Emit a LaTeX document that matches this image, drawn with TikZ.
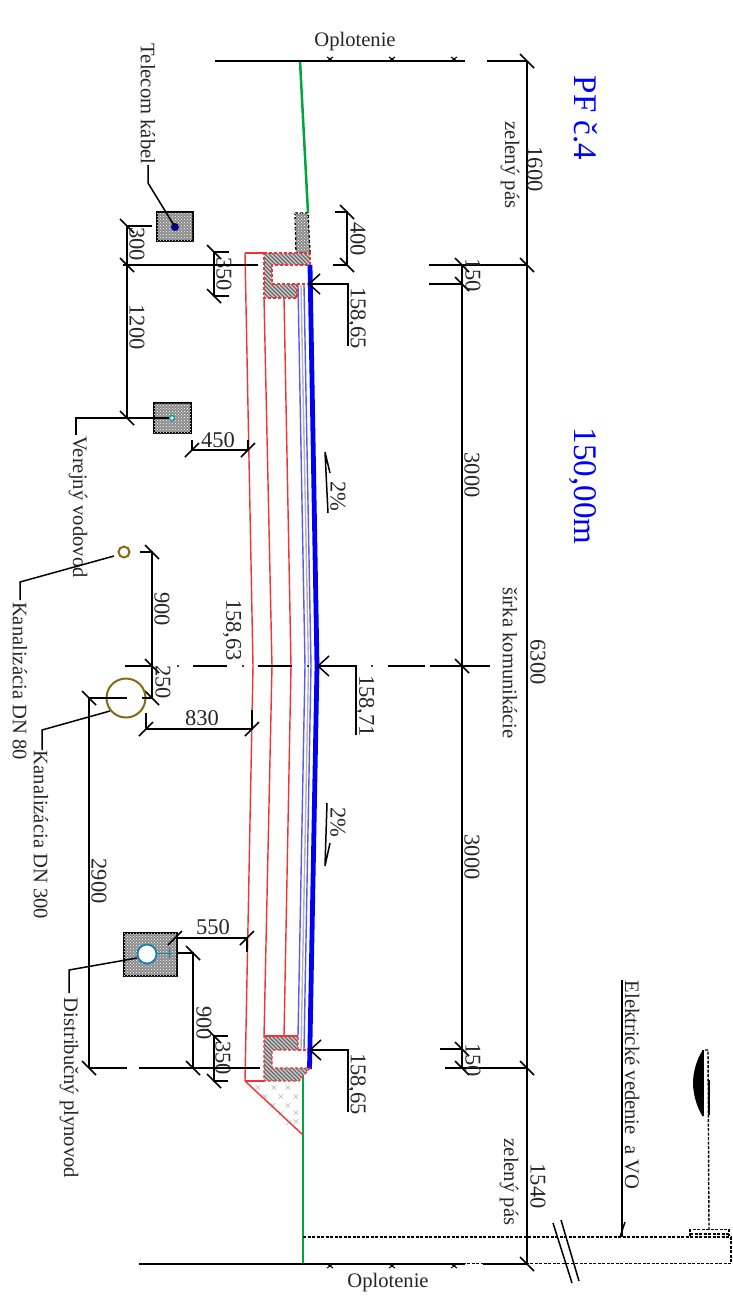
\documentclass[tikz,border=0pt]{standalone}
\usepackage{fontspec}
\setmainfont{Liberation Serif}
\usepackage{xcolor}
\definecolor{roadred}{RGB}{245,50,50}
\definecolor{roadblue}{RGB}{0,0,245}
\definecolor{thinblue}{RGB}{90,90,245}
\definecolor{verge}{RGB}{0,165,60}
\definecolor{sewer}{RGB}{135,105,20}
\definecolor{gaspipe}{RGB}{20,130,175}
\definecolor{waterpipe}{RGB}{0,160,160}
\usepackage{tikz}
\usetikzlibrary{patterns}

\tikzset{
	dim/.style={line width=1.5pt, black},
	lab/.style={rotate=-90, inner sep=0pt, font=\fontsize{20.6}{20.6}\selectfont, text=black!85},
	num/.style={lab, font=\fontsize{22.5}{22.5}\selectfont},
	flat/.style={inner sep=0pt, font=\fontsize{22.5}{22.5}\selectfont, text=black!85},
	title/.style={lab, font=\fontsize{33}{33}\selectfont, text=blue},
	layer/.style={roadred, line width=1.4pt},
	thinlayer/.style={thinblue, line width=1.4pt},
	chamber/.style={draw=black, line width=1.6pt, fill=black!45, postaction={pattern=crosshatch dots, pattern color=white}},
	dashline/.style={black, line width=1.4pt, dash pattern=on 3pt off 1.5pt},
	curbedge/.style={draw=roadred, densely dashed, line width=1.3pt},
	hatchline/.style={black!60, line width=1.2pt},
}

% tick on a vertical dimension line, tick on a horizontal one, open arrow head
\newcommand{\tickv}[2]{\draw[dim] (#1-7, #2-7) -- (#1+7, #2+7);}
\newcommand{\tickh}[2]{\draw[dim] (#1-7, #2+7) -- (#1+7, #2-7);}
\newcommand{\openhead}[2]{\draw[dim] (#1+11, #2-10) -- (#1, #2) -- (#1+11, #2+10);}

\begin{document}
\begin{tikzpicture}[x=1pt, y=-1pt]

\useasboundingbox (0,0) rectangle (732,1304);

% ground, verge
\draw[verge, line width=2.5pt] (300, 61) -- (308, 213);
\draw[verge, line width=2.5pt] (303, 1073) -- (303, 1264);

% fill to the right of the lower curb
\draw[layer] (245, 1081) -- (303, 1135);
\foreach \x/\y in {258/1088, 274/1088, 288/1088, 265/1097, 281/1097, 296/1097, 273/1106, 288/1106, 296/1113, 281/1114, 289/1123, 296/1122} {
	\node[gray, inner sep=0pt, font=\fontsize{10}{10}\selectfont] (cross\x\y) at (\x, \y) {$\times$};
}

% road layers
\draw[layer] (245, 253) -- (253, 666) -- (245, 1081);
\draw[layer] (264, 298) -- (272, 666) -- (264, 1036);
\draw[layer] (284, 298) -- (291, 666) -- (284, 1036);
\draw[thinlayer] (298, 285) -- (305, 666) -- (298, 1036);
\draw[gray!60, line width=1.4pt] (301, 285) -- (308.5, 666) -- (301, 1050);
\draw[thinlayer] (304, 285) -- (311, 666) -- (304, 1050);
\draw[roadblue, line width=4.8pt] (310, 265) -- (317, 666) -- (309.5, 1069);

% upper curb
\draw[draw=black, densely dashed, line width=1.3pt, fill=black!45, postaction={pattern=crosshatch dots, pattern color=white}] (295, 213) -- (308, 213) -- (310, 253) -- (296, 253) -- cycle;
\draw[layer] (245, 253) -- (264, 253);
\begin{scope}
	\clip (264, 253) -- (310, 253) -- (310, 265) -- (272, 265) -- (272, 284) -- (297, 284) -- (297, 298) -- (264, 298) -- cycle;
	\fill[black!18] (264, 253) rectangle (310, 298);
	\foreach \k in {0, 4, ..., 92} {
		\draw[hatchline] (220+\k, 253) -- (265+\k, 298);
	}
\end{scope}
\draw[curbedge] (264, 253) -- (310, 253) -- (310, 265) -- (272, 265) -- (272, 284) -- (308, 284);
\draw[curbedge] (297, 284) -- (297, 298) -- (264, 298) -- (264, 253);

% lower curb
\draw[layer] (245, 1081) -- (264, 1081);
\begin{scope}
	\clip (264, 1036) -- (298, 1036) -- (298, 1050) -- (272, 1050) -- (272, 1068) -- (310, 1068) -- (299, 1081) -- (264, 1081) -- cycle;
	\fill[black!18] (264, 1036) rectangle (310, 1081);
	\foreach \k in {0, 4, ..., 92} {
		\draw[hatchline] (220+\k, 1036) -- (265+\k, 1081);
	}
\end{scope}
\draw[curbedge] (264, 1036) -- (298, 1036) -- (298, 1050) -- (272, 1050) -- (272, 1068) -- (310, 1068) -- (299, 1081) -- (264, 1081) -- cycle;
\draw[curbedge] (298, 1050) -- (308, 1050);
\draw[layer] (264, 1036) -- (298, 1036);

% fences
\draw[dim] (215, 61) -- (465, 61);
\draw[dim] (487, 61) -- (527, 61);
\draw[dim] (139, 1264) -- (465, 1264);
\draw[dim] (483, 1264) -- (527, 1264);
\foreach \x in {330, 392, 454} {
	\draw[line width=1pt] (\x-3, 57) -- (\x+3, 61) (\x+3, 57) -- (\x-3, 61); % upper post
	\draw[line width=1pt] (\x-3, 1264) -- (\x+3, 1268) (\x+3, 1264) -- (\x-3, 1268); % lower post
}
\node[lab, rotate=90] (fencetop) at (355, 42) {Oplotenie};
\node[lab, rotate=90] (fencebot) at (388, 1283) {Oplotenie};

% outer dimension line
\draw[dim] (527, 61) -- (527, 1264);
\foreach \y in {61, 265, 1068, 1264} {
	\tickv{527}{\y}
}
\draw[dim] (429, 265) -- (527, 265);
\draw[dim] (429, 284) -- (462, 284);
\draw[dim] (440, 1049) -- (462, 1049);
\draw[dim] (445, 1068) -- (527, 1068);

% inner dimension line
\draw[dim] (462, 265) -- (462, 1068);
\foreach \y in {265, 284, 666, 1049, 1068} {
	\tickv{462}{\y}
}
\node[num] (d1600) at (535, 169) {1600};
\node[num] (d6300) at (538, 662) {6300};
\node[num] (d1540) at (538, 1186) {1540};
\node[lab] (greentop) at (510, 165) {zelený pás};
\node[lab] (greenbot) at (509, 1182) {zelený pás};
\node[lab] (roadwidth) at (510, 663) {šírka komunikácie};
\node[num] (d150a) at (473, 275) {150};
\node[num] (d3000a) at (472, 475) {3000};
\node[num] (d3000b) at (472, 857) {3000};
\node[num] (d150b) at (473, 1060) {150};
\node[title] (station) at (583, 486) {150,00m};
\node[title] (profile) at (586, 118) {PF č.4};

% centre line
\foreach \a/\b in {125/153, 193/227, 258/292, 388/425, 430/490} {
	\draw[dim] (\a, 666) -- (\b, 666);
}
\foreach \x in {178, 243, 308, 372} {
	\fill (\x, 666) circle (1.2pt);
}

% levels
\draw[dim] (310, 284) -- (348, 284) -- (348, 346);
\openhead{309}{284}
\node[num] (leveltop) at (356.5, 318) {158,65};
\draw[dim] (318, 666) -- (356, 666) -- (356, 735);
\openhead{318}{666}
\node[num] (levelmid) at (365, 706) {158,71};
\draw[dim] (311, 1050) -- (348, 1050) -- (348, 1112);
\openhead{310}{1050}
\node[num] (levelbot) at (356.5, 1084) {158,65};
\node[num] (levelsub) at (232, 630) {158,63};

% slopes
\draw[dim] (330, 473) -- (325, 452) -- (328, 513);
\node[num] (slopea) at (338, 496) {2\%};
\draw[dim] (330, 843) -- (325, 866) -- (327, 803);
\node[num] (slopeb) at (338, 822) {2\%};

% curb height and layers
\draw[dim] (335, 212) -- (347, 212) -- (347, 265) -- (333, 265);
\tickv{347}{212}
\tickv{347}{265}
\node[num] (d400) at (358, 239) {400};
\draw[dim] (229, 252) -- (214, 252) -- (214, 296) -- (229, 296);
\tickv{214}{252}
\tickv{214}{296}
\node[num] (d350a) at (224, 274) {350};
\draw[dim] (228, 1036) -- (214, 1036) -- (214, 1081) -- (228, 1081);
\tickv{214}{1036}
\tickv{214}{1081}
\node[num] (d350b) at (223, 1058) {350};

% telecom
\node[chamber, minimum width=36pt, minimum height=29pt, inner sep=0pt] (telebox) at (175, 226.5) {};
\fill[blue!60!black] (175, 227) circle (4pt);
\draw[dim] (175, 227) -- (148, 183) -- (148, 165);
\node[lab] (telecom) at (148, 104) {Telecom kábel};
\draw[dim] (123, 265) -- (258, 265);
\draw[dim] (127, 226) -- (152, 226);
\draw[dim] (127, 226) -- (127, 418);
\tickv{127}{226}
\tickv{127}{265}
\tickv{127}{418}
\node[num] (d300) at (137, 244) {300};
\node[num] (d1200) at (137, 327) {1200};

% water main
\node[chamber, minimum width=37pt, minimum height=30pt, inner sep=0pt] (waterbox) at (172.5, 418) {};
\draw[dim] (172, 418) -- (76, 418) -- (76, 435);
\draw[waterpipe, fill=white, line width=1.4pt] (172, 418) circle (2.5pt);
\node[lab] (water) at (78, 507) {Verejný vodovod};
\draw[dim] (192, 440) -- (192, 450) -- (248, 450) -- (248, 440);
\tickh{192}{450}
\tickh{248}{450}
\node[flat] (d450) at (218, 440) {450};

% small sewer
\draw[sewer, line width=2pt] (124, 552) circle (5.5pt);
\draw[dim] (114, 556) -- (20, 582) -- (20, 600);
\node[lab] (sewera) at (20, 681) {Kanalizácia DN 80};
\draw[dim] (140, 552) -- (152, 552) -- (152, 698);
\tickv{152}{552}
\tickv{152}{666}
\tickv{152}{698}
\node[num] (d900a) at (162, 609) {900};
\node[num] (d250) at (163, 682) {250};

% large sewer
\draw[sewer, line width=2pt] (126, 698) circle (19.5pt);
\draw[dim] (89, 698) -- (127, 698);
\draw[dim] (142, 698) -- (153, 698);
\draw[dim] (110, 711) -- (42, 730) -- (42, 750);
\node[lab] (sewerb) at (41, 835) {Kanalizácia DN 300};
\draw[dim] (89, 698) -- (89, 1068);
\tickv{89}{698}
\tickv{89}{1068}
\node[num] (d2900) at (99, 881) {2900};
\draw[dim] (89, 1068) -- (127, 1068);
\draw[dim] (139, 1068) -- (260, 1068);
\draw[dim] (146, 713) -- (146, 729) -- (252, 729) -- (252, 710);
\tickh{146}{729}
\tickh{252}{729}
\node[flat] (d830) at (202, 718) {830};

% gas main
\node[chamber, minimum width=53pt, minimum height=43pt, inner sep=0pt] (gasbox) at (150.5, 954.5) {};
\draw[gaspipe, line width=0.6pt] (157, 953) -- (172, 953) (169, 948) -- (169, 958);
\draw[gaspipe, fill=white, line width=1.8pt] (147, 954) circle (9.5pt);
\draw[dim] (137, 958) -- (69, 970) -- (69, 993);
\node[lab] (gas) at (69, 1088) {Distribučný plynovod};
\draw[dim] (175, 938) -- (247, 938) -- (247, 952);
\tickh{175}{938}
\tickh{247}{938}
\node[flat] (d550) at (213, 927) {550};
\draw[dim] (177, 953) -- (193, 953) -- (193, 1068);
\tickv{193}{953}
\tickv{193}{1068}
\node[num] (d900b) at (204, 1023) {900};

% lighting and power cable
\draw[dashline] (303, 1237) -- (731, 1237) -- (731, 1263.5) -- (430, 1263.5);
\draw[dim] (622, 980) -- (622, 1237);
\draw[dim] (625, 1222) -- (620, 1237);
\node[lab] (power) at (632, 1085) {Elektrické vedenie~~a VO};
\draw[dim] (553, 1223) -- (572, 1283);
\draw[dim] (561, 1220) -- (579, 1281);
\fill (703, 1050) .. controls (697, 1058) and (693, 1072) .. (693, 1083) .. controls (693, 1094) and (697, 1108) .. (703, 1117) -- cycle;
\draw[dim] (703, 1050) -- (703, 1116);
\draw[dashline] (705, 1050) -- (708, 1050) -- (709, 1230);
\draw[black, line width=2.5pt] (709, 1080) -- (709, 1115);
\draw[dashline] (690, 1236) -- (690, 1229.5) -- (729, 1229.5) -- (729, 1236);
\draw[dashline] (690, 1234) -- (729, 1234);

\end{tikzpicture}
\end{document}
